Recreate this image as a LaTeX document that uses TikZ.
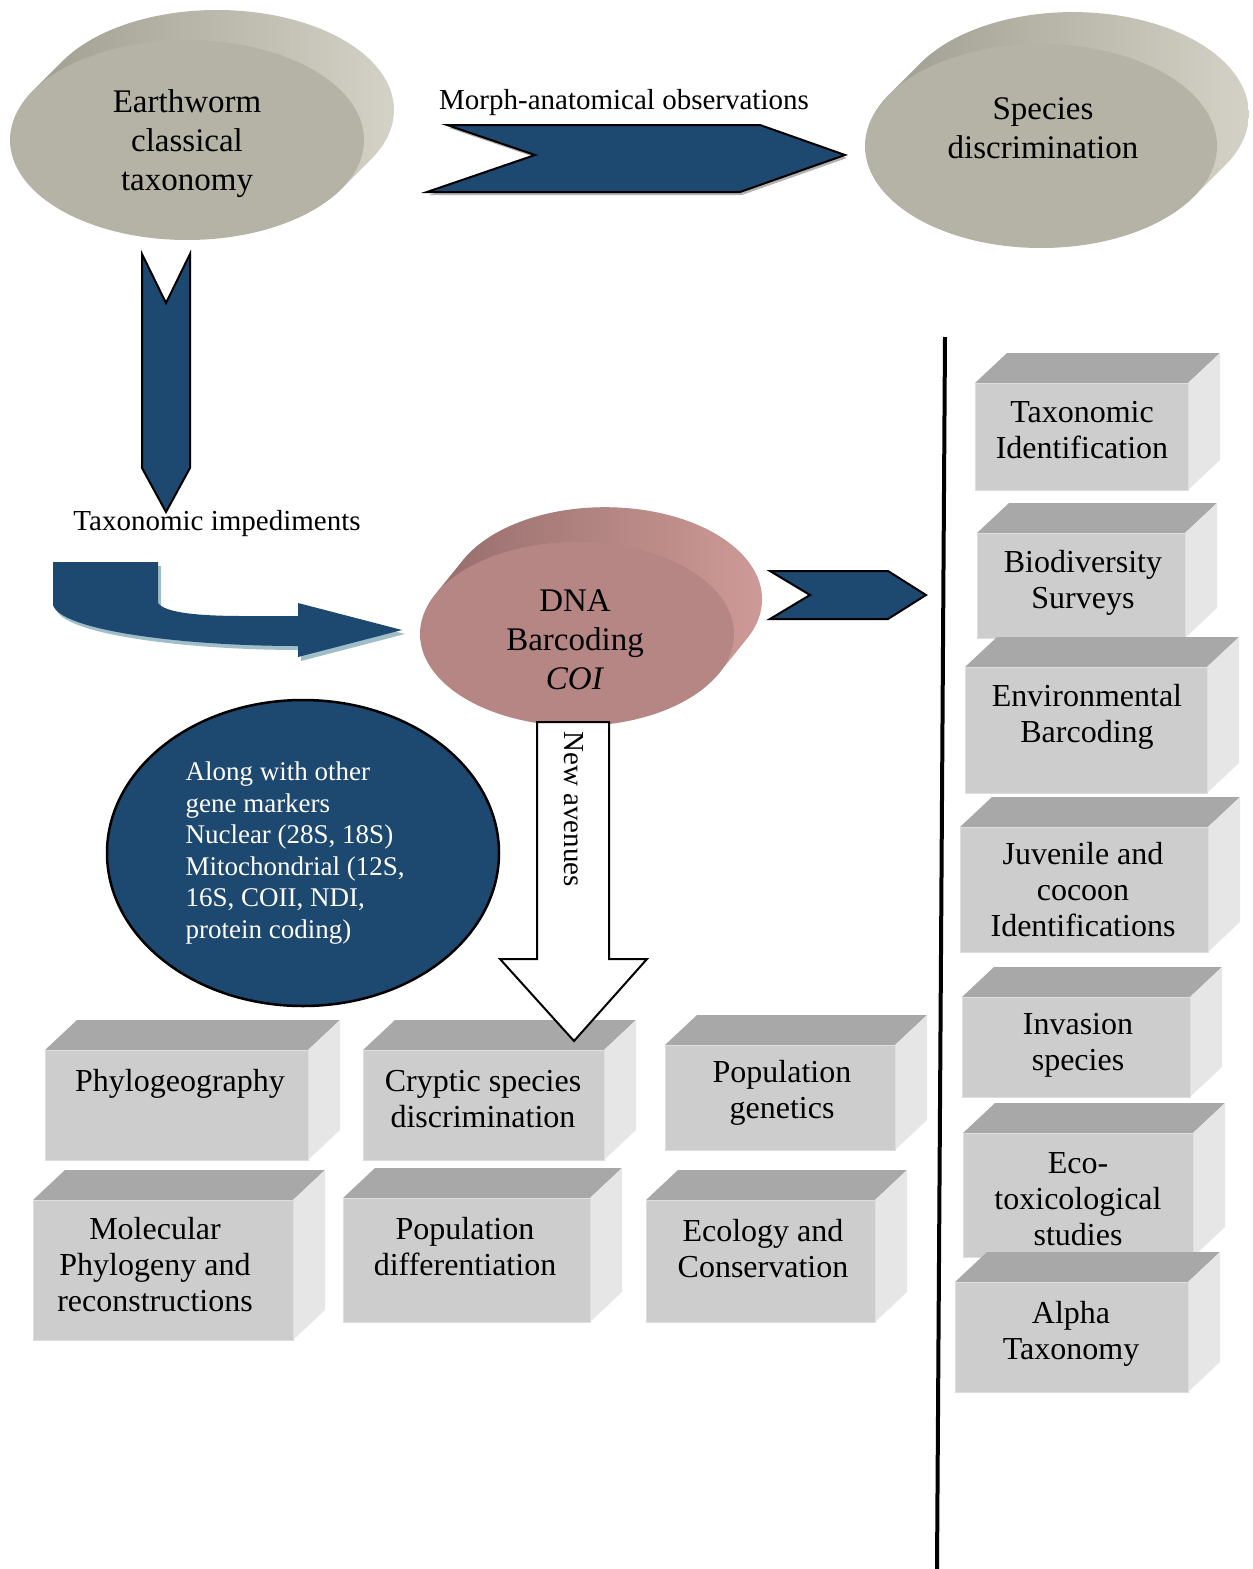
\documentclass[tikz,border=0pt]{standalone}
\usepackage{fontspec}
\setmainfont{Liberation Serif}
\usetikzlibrary{shapes.geometric}

\definecolor{navy}{RGB}{29,72,112}
\definecolor{greyface}{RGB}{181,179,165}
\definecolor{greyrimA}{RGB}{158,156,142}
\definecolor{greyrimB}{RGB}{212,210,198}
\definecolor{roseface}{RGB}{181,134,131}
\definecolor{roserimA}{RGB}{148,108,106}
\definecolor{roserimB}{RGB}{206,154,151}
\definecolor{frontgrey}{RGB}{205,205,205}
\definecolor{topgrey}{RGB}{168,168,168}
\definecolor{sidegrey}{RGB}{230,230,230}
\definecolor{edgegrey}{RGB}{222,222,222}
\definecolor{tealshadow}{RGB}{160,190,200}

\begin{document}
\begin{tikzpicture}[x=1pt,y=-1pt]
\useasboundingbox (0,0) rectangle (1253,1569);

\tikzstyle{disctext}=[align=center,font=\fontsize{33}{39}\selectfont]
\tikzstyle{flowtext}=[font=\fontsize{29}{34}\selectfont]
\tikzstyle{boxtext}=[align=center,font=\fontsize{32}{36}\selectfont]
\tikzstyle{blockarrow}=[fill=navy,draw=black,line width=2pt]
\tikzstyle{boxtop}=[fill=topgrey]
\tikzstyle{boxside}=[fill=sidegrey]
\tikzstyle{boxfront}=[fill=frontgrey,draw=edgegrey,line width=1pt]

% discs
\shade[left color=greyrimA,right color=greyrimB]
  \foreach \k in {1,...,24} {({187+1.25*\k},{140-1.25*\k}) ellipse (177pt and 100pt)};
\fill[greyface] (187,140) ellipse (177pt and 100pt);
\node[disctext] (earthworm) at (187,144) {Earthworm\\classical\\taxonomy};

\shade[left color=greyrimA,right color=greyrimB]
  \foreach \k in {1,...,24} {({1041+1.33*\k},{146-1.33*\k}) ellipse (176pt and 102pt)};
\fill[greyface] (1041,146) ellipse (176pt and 102pt);
\node[disctext] (species) at (1043,128) {Species\\discrimination};

\shade[left color=roserimA,right color=roserimB]
  \foreach \k in {1,...,24} {({577+1.17*\k},{634-1.45*\k}) ellipse (157pt and 92pt)};
\fill[roseface] (577,634) ellipse (157pt and 92pt);
\node[disctext] (dna) at (575,640) {DNA\\Barcoding\\\textit{COI}};

% arrows
\fill[gray!60] (449,128) -- (537,158) -- (429,195) -- (742,195) -- (847,158) -- (762,128) -- cycle;
\draw[blockarrow] (447,125) -- (535,155) -- (427,192) -- (740,192) -- (845,155) -- (760,125) -- cycle;
\node[flowtext] (morph) at (624,103) {Morph-anatomical observations};

\draw[blockarrow] (142,254) -- (166,303) -- (190,254) -- (190,468) -- (166,512) -- (142,468) -- cycle;
\node[flowtext] (impediments) at (217,524) {Taxonomic impediments};

\fill[tealshadow] (56,566) -- (161,566) -- (161,607) .. controls (168,617) and (203,620) .. (246,620) -- (301,620) -- (301,607) -- (405,634) -- (301,661) -- (301,650) .. controls (183,650) and (63,634) .. (56,609) -- cycle;
\fill[navy] (53,562) -- (158,562) -- (158,603) .. controls (165,613) and (200,616) .. (243,616) -- (298,616) -- (298,603) -- (402,630) -- (298,657) -- (298,646) .. controls (180,646) and (60,630) .. (53,605) -- cycle;

\draw[blockarrow] (770,571) -- (810,595) -- (770,619) -- (888,619) -- (926,595) -- (888,571) -- cycle;

% markers
\node[ellipse,fill=navy,draw=black,line width=2.5pt,minimum width=392pt,minimum height=306pt] (markers) at (303,853) {};
\node[anchor=west,align=left,text=white,font=\fontsize{27}{31.6}\selectfont] (markertext) at (182,853)
  {Along with other\\gene markers\\Nuclear (28S, 18S)\\Mitochondrial (12S,\\16S, COII, NDI,\\protein coding)};

% boxes
\foreach \nm/\xa/\ya/\xb/\yb/\tx/\ty/\txt in {
  phylo/45/1050/308/1160/180/1084/{Phylogeography},
  cryptic/363/1050/604/1160/483/1099/{Cryptic species\\discrimination},
  popgen/665/1045/895/1150/782/1093/{Population\\genetics},
  molphy/33/1200/293/1340/155/1265/{Molecular\\Phylogeny and\\reconstructions},
  popdiff/343/1198/590/1322/465/1247/{Population\\differentiation},
  ecocon/646/1200/875/1322/763/1249/{Ecology and\\Conservation},
  taxid/975/383/1188/490/1082/430/{Taxonomic\\Identification},
  biodiv/977/533/1185/638/1083/583/{Biodiversity\\Surveys},
  envbar/965/667/1207/793/1087/717/{Environmental\\Barcoding},
  juven/960/827/1208/952/1083/890/{Juvenile and\\cocoon\\Identifications},
  invas/962/997/1190/1097/1078/1045/{Invasion\\species},
  ecotox/963/1133/1193/1257/1078/1199/{Eco-\\toxicological\\studies},
  alpha/955/1282/1188/1392/1071/1334/{Alpha\\Taxonomy}}
{
  \fill[boxtop] (\xa,\ya) -- ({\xa+32},{\ya-30}) -- ({\xb+32},{\ya-30}) -- (\xb,\ya) -- cycle;
  \fill[boxside] (\xb,\ya) -- ({\xb+32},{\ya-30}) -- ({\xb+32},{\yb-30}) -- (\xb,\yb) -- cycle;
  \draw[boxfront] (\xa,\ya) rectangle (\xb,\yb);
  \node[boxtext] (\nm) at (\tx,\ty) {\txt};
}

% new avenues
\draw[fill=white,line width=2pt] (537,722) -- (609,722) -- (609,959) -- (647,959) -- (574,1041) -- (500,959) -- (537,959) -- cycle;
\node[flowtext,rotate=-90] (avenues) at (574,809) {New avenues};

% divider
\draw[line width=4pt] (945,337) -- (937,1569);

\end{tikzpicture}
\end{document}
